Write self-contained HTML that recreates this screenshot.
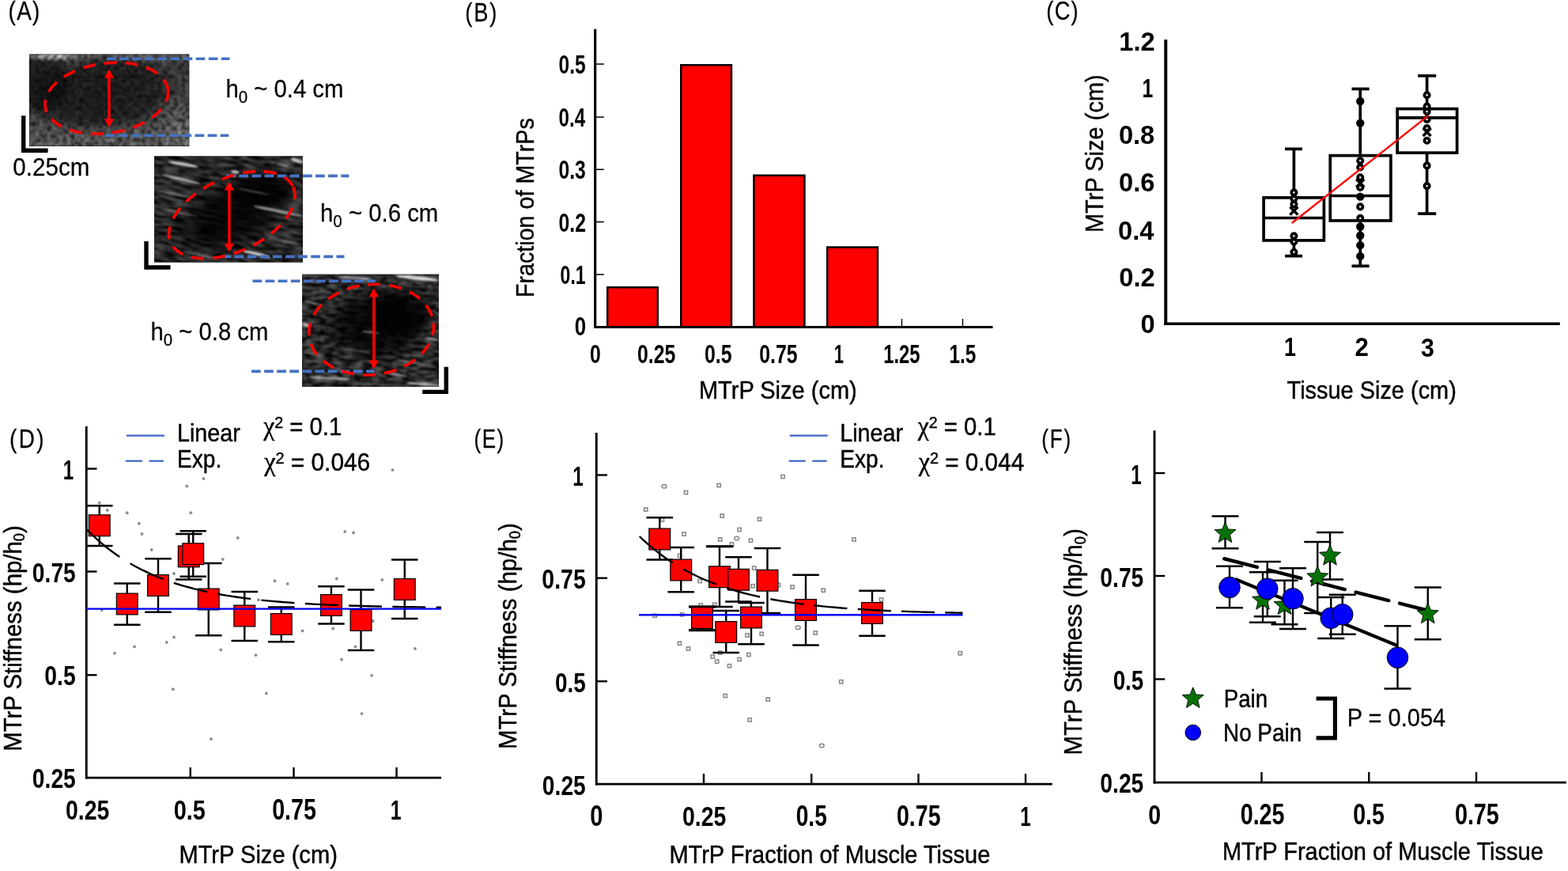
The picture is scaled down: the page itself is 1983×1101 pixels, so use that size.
<!DOCTYPE html>
<html lang="en">
<head>
<meta charset="utf-8">
<title>MTrP size and stiffness figure</title>
<style>
html,body{margin:0;padding:0;background:#fff;}
body{width:1983px;height:1101px;overflow:hidden;}
svg{display:block;font-family:"Liberation Sans",sans-serif;}
text.r{stroke:#000;stroke-width:0.45px;}
text.t{stroke:#000;stroke-width:0.25px;}
</style>
</head>
<body>
<svg width="1983" height="1101" viewBox="0 0 1983 1101">
<defs>
<filter id="spk" x="0" y="0" width="1" height="1" color-interpolation-filters="sRGB">
<feTurbulence type="fractalNoise" baseFrequency="0.2" numOctaves="2" seed="7" result="n"/>
<feColorMatrix in="n" type="matrix" values="1.4 0 0 0 -0.1  1.4 0 0 0 -0.1  1.4 0 0 0 -0.1  0 0 0 0 1" result="g"/>
<feComposite in="SourceGraphic" in2="g" operator="arithmetic" k1="1.67" k2="0" k3="0" k4="0" result="m"/>
<feGaussianBlur in="m" stdDeviation="1.1"/>
</filter>
<filter id="str" x="0" y="0" width="1" height="1" color-interpolation-filters="sRGB">
<feTurbulence type="fractalNoise" baseFrequency="0.05 0.25" numOctaves="3" seed="11" result="n"/>
<feColorMatrix in="n" type="matrix" values="2.2 0 0 0 -0.6  2.2 0 0 0 -0.6  2.2 0 0 0 -0.6  0 0 0 0 1" result="g"/>
<feComposite in="SourceGraphic" in2="g" operator="arithmetic" k1="2" k2="0" k3="0" k4="0" result="m"/>
<feGaussianBlur in="m" stdDeviation="0.8"/>
</filter>
<filter id="str3" x="0" y="0" width="1" height="1" color-interpolation-filters="sRGB">
<feTurbulence type="fractalNoise" baseFrequency="0.08 0.25" numOctaves="3" seed="23" result="n"/>
<feColorMatrix in="n" type="matrix" values="2.2 0 0 0 -0.6  2.2 0 0 0 -0.6  2.2 0 0 0 -0.6  0 0 0 0 1" result="g"/>
<feComposite in="SourceGraphic" in2="g" operator="arithmetic" k1="2" k2="0" k3="0" k4="0" result="m"/>
<feGaussianBlur in="m" stdDeviation="0.8"/>
</filter>
<filter id="bl" x="-0.2" y="-2" width="1.4" height="5"><feGaussianBlur stdDeviation="1.3"/></filter>
<radialGradient id="dk" cx="0.5" cy="0.5" r="0.5"><stop offset="0" stop-color="#000" stop-opacity="0.85"/><stop offset="0.6" stop-color="#000" stop-opacity="0.7"/><stop offset="1" stop-color="#000" stop-opacity="0"/></radialGradient>
<radialGradient id="dk1" cx="0.5" cy="0.5" r="0.5"><stop offset="0" stop-color="#000" stop-opacity="0.55"/><stop offset="0.7" stop-color="#000" stop-opacity="0.45"/><stop offset="1" stop-color="#000" stop-opacity="0"/></radialGradient>
<radialGradient id="lt" cx="0.5" cy="0.5" r="0.5"><stop offset="0" stop-color="#fff" stop-opacity="0.55"/><stop offset="1" stop-color="#fff" stop-opacity="0"/></radialGradient>
<linearGradient id="v1" x1="0" y1="0" x2="0" y2="1"><stop offset="0" stop-color="#5c5c5c"/><stop offset="0.1" stop-color="#383838"/><stop offset="0.7" stop-color="#3a3a3a"/><stop offset="0.85" stop-color="#4c4c4c"/><stop offset="1" stop-color="#505050"/></linearGradient>
<clipPath id="c1"><rect x="37" y="68.5" width="202.3" height="116.5"/></clipPath>
<clipPath id="c2"><rect x="195" y="197.5" width="188" height="134"/></clipPath>
<clipPath id="c3"><rect x="382" y="346.8" width="173" height="142"/></clipPath>
</defs>
<rect width="1983" height="1101" fill="#fff"/>
<g id="panelA">
<rect x="37" y="68.5" width="202.3" height="116.5" fill="#1c1c1c"/>
<g clip-path="url(#c1)"><g filter="url(#spk)"><rect x="37" y="68.5" width="202.3" height="116.5" fill="url(#v1)"/><ellipse cx="130" cy="118" rx="100" ry="50" fill="url(#dk1)" transform="rotate(-6 130 118)"/><ellipse cx="50" cy="105" rx="45" ry="42" fill="url(#dk1)"/><ellipse cx="65" cy="71" rx="35" ry="7" fill="url(#lt)"/><ellipse cx="225" cy="155" rx="35" ry="40" fill="url(#lt)" opacity="0.25"/></g></g>
<rect x="195" y="197.5" width="188" height="134" fill="#0c0c0c"/>
<g clip-path="url(#c2)"><g transform="rotate(11 289 264)"><g filter="url(#str)"><rect x="150" y="150" width="280" height="230" fill="#262626"/></g></g><ellipse cx="293" cy="272" rx="84" ry="44" fill="url(#dk)" transform="rotate(-24 293 272)"/><ellipse cx="330" cy="240" rx="50" ry="26" fill="url(#dk)"/><g filter="url(#bl)" fill="#fff"><ellipse cx="231.4" cy="207.6" rx="19.3" ry="1.8" transform="rotate(10.4 231.4 207.6)" opacity="0.75"/><ellipse cx="229.2" cy="226.6" rx="24.6" ry="1.8" transform="rotate(13.2 229.2 226.6)" opacity="0.6"/><ellipse cx="297.5" cy="217.4" rx="4.9" ry="2" transform="rotate(8.1 297.5 217.4)" opacity="0.7"/><ellipse cx="351.7" cy="266.7" rx="31.6" ry="2" transform="rotate(11.5 351.7 266.7)" opacity="0.55"/><ellipse cx="324.2" cy="320.9" rx="18.0" ry="2.2" transform="rotate(13.5 324.2 320.9)" opacity="0.7"/><ellipse cx="375.5" cy="203.0" rx="7.9" ry="2.5" transform="rotate(18.4 375.5 203.0)" opacity="0.7"/><ellipse cx="358.0" cy="208.5" rx="8.1" ry="1.5" transform="rotate(10.6 358.0 208.5)" opacity="0.4"/><ellipse cx="219.0" cy="245.0" rx="21.6" ry="1.5" transform="rotate(13.4 219.0 245.0)" opacity="0.3"/><ellipse cx="225.0" cy="268.0" rx="25.7" ry="1.5" transform="rotate(13.5 225.0 268.0)" opacity="0.25"/><ellipse cx="320.0" cy="242.0" rx="20.4" ry="1.2" transform="rotate(11.3 320.0 242.0)" opacity="0.25"/><ellipse cx="360.0" cy="304.5" rx="20.5" ry="1.5" transform="rotate(12.7 360.0 304.5)" opacity="0.3"/><ellipse cx="250.0" cy="322.0" rx="20.4" ry="1.5" transform="rotate(11.3 250.0 322.0)" opacity="0.3"/></g></g>
<rect x="382" y="346.8" width="173" height="142" fill="#0c0c0c"/>
<g clip-path="url(#c3)"><g transform="rotate(4 468 418)"><g filter="url(#str3)"><rect x="360" y="320" width="220" height="200" fill="#2a2a2a"/></g></g><ellipse cx="475" cy="412" rx="72" ry="50" fill="url(#dk)"/><ellipse cx="505" cy="395" rx="50" ry="36" fill="url(#dk)"/><g filter="url(#bl)" fill="#fff"><ellipse cx="527.7" cy="351.6" rx="27.1" ry="2.6" transform="rotate(6.2 527.7 351.6)" opacity="0.8"/><ellipse cx="449.9" cy="351.5" rx="21.9" ry="2" transform="rotate(3.9 449.9 351.5)" opacity="0.5"/><ellipse cx="388.0" cy="411.2" rx="5.2" ry="2.5" transform="rotate(16.2 388.0 411.2)" opacity="0.6"/><ellipse cx="468.8" cy="419.9" rx="11.7" ry="1.3" transform="rotate(7.1 468.8 419.9)" opacity="0.4"/><ellipse cx="545.8" cy="428.5" rx="8.9" ry="1.5" transform="rotate(9.7 545.8 428.5)" opacity="0.5"/><ellipse cx="417.2" cy="478.1" rx="25.5" ry="2" transform="rotate(3.3 417.2 478.1)" opacity="0.5"/><ellipse cx="500.5" cy="473.2" rx="14.7" ry="1.5" transform="rotate(8.8 500.5 473.2)" opacity="0.4"/><ellipse cx="534.8" cy="485.5" rx="19.9" ry="2" transform="rotate(4.3 534.8 485.5)" opacity="0.6"/><ellipse cx="392.5" cy="382.0" rx="7.8" ry="1.5" transform="rotate(14.9 392.5 382.0)" opacity="0.35"/><ellipse cx="397.0" cy="447.5" rx="13.2" ry="1.5" transform="rotate(10.9 397.0 447.5)" opacity="0.3"/><ellipse cx="450.0" cy="443.0" rx="20.2" ry="1.2" transform="rotate(8.5 450.0 443.0)" opacity="0.25"/><ellipse cx="520.0" cy="458.0" rx="20.2" ry="1.5" transform="rotate(8.5 520.0 458.0)" opacity="0.3"/></g></g>
<line x1="135" y1="74.3" x2="290.5" y2="74.3" stroke="#4472c4" stroke-width="3.6" stroke-dasharray="11.7 4.4"/>
<line x1="133.8" y1="171.2" x2="289.3" y2="171.2" stroke="#4472c4" stroke-width="3.6" stroke-dasharray="11.7 4.4"/>
<line x1="286.3" y1="222.4" x2="441.3" y2="222.4" stroke="#4472c4" stroke-width="3.6" stroke-dasharray="11.7 4.4"/>
<line x1="280.5" y1="324.4" x2="435.5" y2="324.4" stroke="#4472c4" stroke-width="3.6" stroke-dasharray="11.7 4.4"/>
<line x1="319.5" y1="355.3" x2="474.8" y2="355.3" stroke="#4472c4" stroke-width="3.6" stroke-dasharray="11.7 4.4"/>
<line x1="318" y1="469.4" x2="473.2" y2="469.4" stroke="#4472c4" stroke-width="3.6" stroke-dasharray="11.7 4.4"/>
<ellipse cx="134.8" cy="124.1" rx="78.4" ry="44.2" transform="rotate(-8 134.8 124.1)" fill="none" stroke="#ff0000" stroke-width="3.6" stroke-dasharray="16 11"/>
<ellipse cx="293.3" cy="271.6" rx="85.1" ry="46.5" transform="rotate(-24.6 293.3 271.6)" fill="none" stroke="#ff0000" stroke-width="3.6" stroke-dasharray="16 11"/>
<ellipse cx="469.55" cy="416.65" rx="79.1" ry="57.1" transform="rotate(-6 469.55 416.65)" fill="none" stroke="#ff0000" stroke-width="3.6" stroke-dasharray="16 11"/>
<path d="M138,87.6 l6.2,11 h-4.5 V150.2 h4.5 L138,161.2 l-6.2,-11 h4.5 V98.6 h-4.5 Z" fill="#ff0000"/>
<path d="M289.9,229.6 l6.2,11 h-4.5 V307.8 h4.5 L289.9,318.8 l-6.2,-11 h4.5 V240.6 h-4.5 Z" fill="#ff0000"/>
<path d="M472.8,364.2 l6.2,11 h-4.5 V455.4 h4.5 L472.8,466.4 l-6.2,-11 h4.5 V375.2 h-4.5 Z" fill="#ff0000"/>
<polyline points="29.7,146.2 29.7,190.3 60.6,190.3" fill="none" stroke="#000" stroke-width="5.4"/>
<polyline points="185,305 185,338 215.5,338" fill="none" stroke="#000" stroke-width="5.4"/>
<polyline points="564.3,463.8 564.3,495.4 534.2,495.4" fill="none" stroke="#000" stroke-width="5.4"/>
<text transform="translate(16.32,221.60) scale(0.9424,1)" font-size="31.40" class="t">0.25cm</text>
<text transform="translate(285.45,123.40) scale(0.9448,1)" font-size="31.00" class="t" xml:space="preserve"><tspan>h</tspan><tspan font-size="21.70" dy="6.82">0</tspan><tspan dy="-6.82"> ~ 0.4 cm</tspan></text>
<text transform="translate(404.94,280.40) scale(0.9481,1)" font-size="31.00" class="t" xml:space="preserve"><tspan>h</tspan><tspan font-size="21.70" dy="6.82">0</tspan><tspan dy="-6.82"> ~ 0.6 cm</tspan></text>
<text transform="translate(190.45,430.40) scale(0.9448,1)" font-size="31.00" class="t" xml:space="preserve"><tspan>h</tspan><tspan font-size="21.70" dy="6.82">0</tspan><tspan dy="-6.82"> ~ 0.8 cm</tspan></text>
<text transform="translate(10.62,25.40) scale(0.8600,1)" font-size="32.50" class="t" letter-spacing="1.44">(A)</text>
</g>
<g id="panelB">
<text transform="translate(588.36,26.80) scale(0.8400,1)" font-size="32.50" class="t" letter-spacing="2.12">(B)</text>
<rect x="768.20" y="363.20" width="63.60" height="50.30" fill="#ff0000" stroke="#000" stroke-width="2.4"/>
<rect x="861.20" y="82.20" width="63.85" height="331.30" fill="#ff0000" stroke="#000" stroke-width="2.4"/>
<rect x="953.40" y="221.70" width="64.10" height="191.80" fill="#ff0000" stroke="#000" stroke-width="2.4"/>
<rect x="1046.20" y="312.50" width="63.80" height="101.00" fill="#ff0000" stroke="#000" stroke-width="2.4"/>
<line x1="752.70" y1="36.75" x2="752.70" y2="415.00" stroke="#000" stroke-width="3.2"/>
<line x1="751.70" y1="413.50" x2="1255.50" y2="413.50" stroke="#000" stroke-width="3"/>
<line x1="753.00" y1="81.00" x2="763.80" y2="81.00" stroke="#000" stroke-width="1.5"/>
<line x1="753.00" y1="148.00" x2="763.80" y2="148.00" stroke="#000" stroke-width="1.5"/>
<line x1="753.00" y1="214.25" x2="763.80" y2="214.25" stroke="#000" stroke-width="1.5"/>
<line x1="753.00" y1="280.50" x2="763.80" y2="280.50" stroke="#000" stroke-width="1.5"/>
<line x1="753.00" y1="347.00" x2="763.80" y2="347.00" stroke="#000" stroke-width="1.5"/>
<line x1="1140.50" y1="403.00" x2="1140.50" y2="413.00" stroke="#000" stroke-width="1.4"/>
<line x1="1217.50" y1="403.00" x2="1217.50" y2="413.00" stroke="#000" stroke-width="1.4"/>
<text transform="translate(706.52,93.10) scale(0.7570,1)" font-size="32.40" font-weight="bold">0.5</text>
<text transform="translate(706.53,160.10) scale(0.7458,1)" font-size="32.40" font-weight="bold">0.4</text>
<text transform="translate(706.51,226.40) scale(0.7628,1)" font-size="32.40" font-weight="bold">0.3</text>
<text transform="translate(706.51,292.60) scale(0.7657,1)" font-size="32.40" font-weight="bold">0.2</text>
<text transform="translate(708.58,359.10) scale(0.7105,1)" font-size="32.40" font-weight="bold">0.1</text>
<text transform="translate(726.66,424.40) scale(0.7992,1)" font-size="32.40" font-weight="bold">0</text>
<text transform="translate(746.01,458.60) scale(0.7635,1)" font-size="32.40" font-weight="bold">0</text>
<text transform="translate(806.01,458.60) scale(0.7675,1)" font-size="32.40" font-weight="bold">0.25</text>
<text transform="translate(891.00,458.60) scale(0.7687,1)" font-size="32.40" font-weight="bold">0.5</text>
<text transform="translate(960.26,458.60) scale(0.7675,1)" font-size="32.40" font-weight="bold">0.75</text>
<text transform="translate(1054.82,458.60) scale(0.6803,1)" font-size="32.40" font-weight="bold">1</text>
<text transform="translate(1117.20,458.60) scale(0.7362,1)" font-size="32.40" font-weight="bold">1.25</text>
<text transform="translate(1200.41,458.60) scale(0.7538,1)" font-size="32.40" font-weight="bold">1.5</text>
<text transform="translate(883.93,503.50) scale(0.9069,1)" font-size="32.00" class="r">MTrP Size (cm)</text>
<text transform="translate(674.60,376.05) rotate(-90) scale(0.8970,1)" font-size="32.00" class="r">Fraction of MTrPs</text>
</g>
<g id="panelC">
<text transform="translate(1323.36,25.30) scale(0.8400,1)" font-size="32.50" class="t" letter-spacing="1.47">(C)</text>
<line x1="1474.25" y1="50.00" x2="1474.25" y2="411.00" stroke="#000" stroke-width="4"/>
<line x1="1472.20" y1="409.25" x2="1972.75" y2="409.25" stroke="#000" stroke-width="3.6"/>
<text transform="translate(1415.24,63.75) scale(0.9600,1)" font-size="34.00" font-weight="bold">1.2</text>
<text transform="translate(1444.39,123.00) scale(0.7274,1)" font-size="34.00" font-weight="bold">1</text>
<text transform="translate(1414.91,181.50) scale(0.9600,1)" font-size="34.00" font-weight="bold">0.8</text>
<text transform="translate(1415.07,242.00) scale(0.9600,1)" font-size="34.00" font-weight="bold">0.6</text>
<text transform="translate(1414.09,303.00) scale(0.9600,1)" font-size="34.00" font-weight="bold">0.4</text>
<text transform="translate(1415.24,362.00) scale(0.9600,1)" font-size="34.00" font-weight="bold">0.2</text>
<text transform="translate(1442.49,421.30) scale(0.9600,1)" font-size="34.00" font-weight="bold">0</text>
<text transform="translate(1624.00,449.80) scale(0.7906,1)" font-size="34.00" font-weight="bold">1</text>
<text transform="translate(1713.41,449.80) scale(0.9191,1)" font-size="34.00" font-weight="bold">2</text>
<text transform="translate(1796.99,451.30) scale(0.8913,1)" font-size="34.00" font-weight="bold">3</text>
<text transform="translate(1627.53,503.90) scale(0.9040,1)" font-size="32.00" class="r">Tissue Size (cm)</text>
<text transform="translate(1395.00,294.07) rotate(-90) scale(0.9069,1)" font-size="32.00" class="r">MTrP Size (cm)</text>
<line x1="1636.40" y1="188.30" x2="1636.40" y2="248.00" stroke="#000" stroke-width="3.7"/>
<line x1="1636.40" y1="305.75" x2="1636.40" y2="323.60" stroke="#000" stroke-width="3.7"/>
<line x1="1625.00" y1="188.30" x2="1647.00" y2="188.30" stroke="#000" stroke-width="3.7"/>
<line x1="1625.00" y1="323.60" x2="1647.00" y2="323.60" stroke="#000" stroke-width="3.7"/>
<rect x="1598.10" y="249.85" width="76.30" height="54.05" fill="#fff" stroke="#000" stroke-width="3.7"/>
<line x1="1598.10" y1="275.50" x2="1674.40" y2="275.50" stroke="#000" stroke-width="3.7"/>
<line x1="1720.25" y1="112.40" x2="1720.25" y2="194.80" stroke="#000" stroke-width="3.7"/>
<line x1="1720.25" y1="280.75" x2="1720.25" y2="336.30" stroke="#000" stroke-width="3.7"/>
<line x1="1709.50" y1="112.40" x2="1731.60" y2="112.40" stroke="#000" stroke-width="3.7"/>
<line x1="1709.50" y1="336.30" x2="1731.60" y2="336.30" stroke="#000" stroke-width="3.7"/>
<rect x="1682.25" y="196.65" width="76.65" height="82.25" fill="#fff" stroke="#000" stroke-width="3.7"/>
<line x1="1682.25" y1="247.50" x2="1758.90" y2="247.50" stroke="#000" stroke-width="3.7"/>
<line x1="1804.60" y1="95.80" x2="1804.60" y2="135.70" stroke="#000" stroke-width="3.7"/>
<line x1="1804.60" y1="195.00" x2="1804.60" y2="270.10" stroke="#000" stroke-width="3.7"/>
<line x1="1793.20" y1="95.80" x2="1816.20" y2="95.80" stroke="#000" stroke-width="3.7"/>
<line x1="1793.20" y1="270.10" x2="1816.20" y2="270.10" stroke="#000" stroke-width="3.7"/>
<rect x="1767.15" y="137.55" width="75.50" height="55.60" fill="#fff" stroke="#000" stroke-width="3.7"/>
<line x1="1767.15" y1="148.80" x2="1842.65" y2="148.80" stroke="#000" stroke-width="3.7"/>
<circle cx="1636.4" cy="243.3" r="3.2" fill="#eee" stroke="#000" stroke-width="3.7"/>
<circle cx="1636.4" cy="251.1" r="3.2" fill="#eee" stroke="#000" stroke-width="3.7"/>
<circle cx="1636.4" cy="298.3" r="3.2" fill="#eee" stroke="#000" stroke-width="3.7"/>
<circle cx="1636.4" cy="305.5" r="3.2" fill="#eee" stroke="#000" stroke-width="3.7"/>
<circle cx="1636.4" cy="318.7" r="3.2" fill="#eee" stroke="#000" stroke-width="3.7"/>
<path d="M1631.4,261.5 L1641.4,271.5 M1641.4,261.5 L1631.4,271.5" stroke="#000" stroke-width="3.4" fill="none"/>
<circle cx="1636.4" cy="258.3" r="3.2" fill="#eee" stroke="#000" stroke-width="3.7"/>
<circle cx="1720.25" cy="128" r="5.2" fill="#000"/>
<circle cx="1720.25" cy="155.6" r="5.2" fill="#000"/>
<circle cx="1720.25" cy="286.5" r="5.2" fill="#000"/>
<circle cx="1720.25" cy="297.7" r="5.2" fill="#000"/>
<circle cx="1720.25" cy="310.1" r="5.2" fill="#000"/>
<circle cx="1720.25" cy="323.9" r="5.2" fill="#000"/>
<circle cx="1720.25" cy="203.2" r="3.2" fill="#eee" stroke="#000" stroke-width="3.7"/>
<circle cx="1720.25" cy="211.5" r="3.2" fill="#eee" stroke="#000" stroke-width="3.7"/>
<circle cx="1720.25" cy="261.4" r="3.2" fill="#eee" stroke="#000" stroke-width="3.7"/>
<circle cx="1720.25" cy="275.8" r="3.2" fill="#eee" stroke="#000" stroke-width="3.7"/>
<path d="M1715.25,226.5 L1725.25,236.5 M1725.25,226.5 L1715.25,236.5" stroke="#000" stroke-width="3.4" fill="none"/>
<circle cx="1720.25" cy="224.3" r="3.2" fill="#eee" stroke="#000" stroke-width="3.7"/>
<circle cx="1720.25" cy="237" r="3.2" fill="#eee" stroke="#000" stroke-width="3.7"/>
<circle cx="1720.25" cy="248.6" r="5.2" fill="#000"/>
<circle cx="1804.6" cy="120.2" r="3.2" fill="#eee" stroke="#000" stroke-width="3.7"/>
<circle cx="1804.6" cy="134.6" r="3.2" fill="#eee" stroke="#000" stroke-width="3.7"/>
<circle cx="1804.6" cy="141.1" r="3.2" fill="#eee" stroke="#000" stroke-width="3.7"/>
<circle cx="1804.6" cy="151" r="3.2" fill="#eee" stroke="#000" stroke-width="3.7"/>
<circle cx="1804.6" cy="209.4" r="3.2" fill="#eee" stroke="#000" stroke-width="3.7"/>
<circle cx="1804.6" cy="235.1" r="3.2" fill="#eee" stroke="#000" stroke-width="3.7"/>
<path d="M1799.6,162 L1809.6,172 M1809.6,162 L1799.6,172" stroke="#000" stroke-width="3.4" fill="none"/>
<circle cx="1804.6" cy="162" r="3.2" fill="#eee" stroke="#000" stroke-width="3.7"/>
<circle cx="1804.6" cy="177.8" r="3.2" fill="#eee" stroke="#000" stroke-width="3.7"/>
<line x1="1633.75" y1="282.00" x2="1806.25" y2="146.25" stroke="#ff0000" stroke-width="2.4"/>
</g>
<g id="panelD">
<text transform="translate(12.07,565.80) scale(0.8600,1)" font-size="32.50" class="t" letter-spacing="2.70">(D)</text>
<g fill="#8c8c96"><circle cx="125.75" cy="635.75" r="1.9"/><circle cx="135.75" cy="645" r="1.9"/><circle cx="160.75" cy="648.25" r="1.9"/><circle cx="175.75" cy="661.75" r="1.9"/><circle cx="179.5" cy="675" r="1.9"/><circle cx="191.75" cy="695" r="1.9"/><circle cx="220" cy="725" r="1.9"/><circle cx="236.25" cy="614.5" r="1.9"/><circle cx="257.5" cy="605" r="1.9"/><circle cx="241.25" cy="648.25" r="1.9"/><circle cx="300.75" cy="680" r="1.9"/><circle cx="281.75" cy="707" r="1.9"/><circle cx="436.25" cy="672" r="1.9"/><circle cx="447" cy="673.5" r="1.9"/><circle cx="347.5" cy="734.25" r="1.9"/><circle cx="363.75" cy="738" r="1.9"/><circle cx="425.75" cy="731.5" r="1.9"/><circle cx="483.25" cy="733" r="1.9"/><circle cx="496.5" cy="594.2" r="1.9"/><circle cx="128.75" cy="771" r="1.9"/><circle cx="327" cy="758.25" r="1.9"/><circle cx="260" cy="748" r="1.9"/><circle cx="145" cy="825.75" r="1.9"/><circle cx="170" cy="817.5" r="1.9"/><circle cx="210.75" cy="812" r="1.9"/><circle cx="220" cy="805.5" r="1.9"/><circle cx="218.75" cy="871.25" r="1.9"/><circle cx="279.25" cy="821.5" r="1.9"/><circle cx="323.5" cy="828.2" r="1.9"/><circle cx="336.85" cy="876.5" r="1.9"/><circle cx="267" cy="934.25" r="1.9"/><circle cx="382.5" cy="797.5" r="1.9"/><circle cx="421.25" cy="794.5" r="1.9"/><circle cx="432" cy="833.75" r="1.9"/><circle cx="449.5" cy="817.5" r="1.9"/><circle cx="470" cy="853.85" r="1.9"/><circle cx="457.5" cy="902.1" r="1.9"/><circle cx="471.75" cy="785" r="1.9"/><circle cx="525" cy="820" r="1.9"/></g>
<line x1="109.25" y1="538.75" x2="109.25" y2="984.50" stroke="#000" stroke-width="2.9"/>
<line x1="108.00" y1="983.10" x2="558.00" y2="983.10" stroke="#000" stroke-width="2.9"/>
<line x1="109.25" y1="592.50" x2="122.50" y2="592.50" stroke="#000" stroke-width="2.4"/>
<line x1="109.25" y1="722.50" x2="122.50" y2="722.50" stroke="#000" stroke-width="2.4"/>
<line x1="109.25" y1="853.25" x2="122.50" y2="853.25" stroke="#000" stroke-width="2.4"/>
<line x1="240.75" y1="970.00" x2="240.75" y2="983.00" stroke="#000" stroke-width="2.4"/>
<line x1="371.50" y1="970.00" x2="371.50" y2="983.00" stroke="#000" stroke-width="2.4"/>
<line x1="501.50" y1="970.00" x2="501.50" y2="983.00" stroke="#000" stroke-width="2.4"/>
<line x1="125.75" y1="639.25" x2="125.75" y2="690.00" stroke="#000" stroke-width="2.4"/>
<line x1="109.00" y1="639.25" x2="142.50" y2="639.25" stroke="#000" stroke-width="2.4"/>
<line x1="109.00" y1="690.00" x2="142.50" y2="690.00" stroke="#000" stroke-width="2.4"/>
<line x1="160.75" y1="737.50" x2="160.75" y2="789.75" stroke="#000" stroke-width="2.4"/>
<line x1="144.00" y1="737.50" x2="177.50" y2="737.50" stroke="#000" stroke-width="2.4"/>
<line x1="144.00" y1="789.75" x2="177.50" y2="789.75" stroke="#000" stroke-width="2.4"/>
<line x1="200.00" y1="706.25" x2="200.00" y2="773.75" stroke="#000" stroke-width="2.4"/>
<line x1="183.25" y1="706.25" x2="216.75" y2="706.25" stroke="#000" stroke-width="2.4"/>
<line x1="183.25" y1="773.75" x2="216.75" y2="773.75" stroke="#000" stroke-width="2.4"/>
<line x1="238.75" y1="675.00" x2="238.75" y2="732.50" stroke="#000" stroke-width="2.4"/>
<line x1="222.00" y1="675.00" x2="255.50" y2="675.00" stroke="#000" stroke-width="2.4"/>
<line x1="222.00" y1="732.50" x2="255.50" y2="732.50" stroke="#000" stroke-width="2.4"/>
<line x1="263.75" y1="712.00" x2="263.75" y2="803.25" stroke="#000" stroke-width="2.4"/>
<line x1="247.00" y1="712.00" x2="280.50" y2="712.00" stroke="#000" stroke-width="2.4"/>
<line x1="247.00" y1="803.25" x2="280.50" y2="803.25" stroke="#000" stroke-width="2.4"/>
<line x1="244.25" y1="671.25" x2="244.25" y2="728.75" stroke="#000" stroke-width="2.4"/>
<line x1="227.50" y1="671.25" x2="261.00" y2="671.25" stroke="#000" stroke-width="2.4"/>
<line x1="227.50" y1="728.75" x2="261.00" y2="728.75" stroke="#000" stroke-width="2.4"/>
<line x1="309.25" y1="748.00" x2="309.25" y2="810.00" stroke="#000" stroke-width="2.4"/>
<line x1="292.50" y1="748.00" x2="326.00" y2="748.00" stroke="#000" stroke-width="2.4"/>
<line x1="292.50" y1="810.00" x2="326.00" y2="810.00" stroke="#000" stroke-width="2.4"/>
<line x1="355.75" y1="767.50" x2="355.75" y2="811.25" stroke="#000" stroke-width="2.4"/>
<line x1="339.00" y1="767.50" x2="372.50" y2="767.50" stroke="#000" stroke-width="2.4"/>
<line x1="339.00" y1="811.25" x2="372.50" y2="811.25" stroke="#000" stroke-width="2.4"/>
<line x1="418.90" y1="741.25" x2="418.90" y2="788.50" stroke="#000" stroke-width="2.4"/>
<line x1="402.15" y1="741.25" x2="435.65" y2="741.25" stroke="#000" stroke-width="2.4"/>
<line x1="402.15" y1="788.50" x2="435.65" y2="788.50" stroke="#000" stroke-width="2.4"/>
<line x1="456.50" y1="745.50" x2="456.50" y2="822.00" stroke="#000" stroke-width="2.4"/>
<line x1="439.75" y1="745.50" x2="473.25" y2="745.50" stroke="#000" stroke-width="2.4"/>
<line x1="439.75" y1="822.00" x2="473.25" y2="822.00" stroke="#000" stroke-width="2.4"/>
<line x1="511.75" y1="707.50" x2="511.75" y2="782.00" stroke="#000" stroke-width="2.4"/>
<line x1="495.00" y1="707.50" x2="528.50" y2="707.50" stroke="#000" stroke-width="2.4"/>
<line x1="495.00" y1="782.00" x2="528.50" y2="782.00" stroke="#000" stroke-width="2.4"/>
<rect x="112.35" y="650.85" width="26.80" height="26.80" fill="#ff0000" stroke="#000" stroke-width="1.2"/>
<rect x="147.35" y="750.10" width="26.80" height="26.80" fill="#ff0000" stroke="#000" stroke-width="1.2"/>
<rect x="186.60" y="726.60" width="26.80" height="26.80" fill="#ff0000" stroke="#000" stroke-width="1.2"/>
<rect x="225.35" y="690.00" width="26.80" height="26.80" fill="#ff0000" stroke="#000" stroke-width="1.2"/>
<rect x="250.35" y="744.10" width="26.80" height="26.80" fill="#ff0000" stroke="#000" stroke-width="1.2"/>
<rect x="230.85" y="686.80" width="26.80" height="26.80" fill="#ff0000" stroke="#000" stroke-width="1.2"/>
<rect x="295.85" y="765.10" width="26.80" height="26.80" fill="#ff0000" stroke="#000" stroke-width="1.2"/>
<rect x="342.35" y="775.60" width="26.80" height="26.80" fill="#ff0000" stroke="#000" stroke-width="1.2"/>
<rect x="405.50" y="751.60" width="26.80" height="26.80" fill="#ff0000" stroke="#000" stroke-width="1.2"/>
<rect x="443.10" y="770.60" width="26.80" height="26.80" fill="#ff0000" stroke="#000" stroke-width="1.2"/>
<rect x="498.35" y="731.60" width="26.80" height="26.80" fill="#ff0000" stroke="#000" stroke-width="1.2"/>
<path d="M109.2,668.8 L114.5,674.0 L119.8,679.0 L125.0,683.8 L130.2,688.2 L135.5,692.5 L140.8,696.5 L146.0,700.3 L151.2,703.9 M164.6,712.2 L169.8,715.2 L175.1,718.0 L180.3,720.7 L185.6,723.2 L190.8,725.6 L196.1,727.9 L201.3,730.1 L206.6,732.1 M219.8,736.8 L225.1,738.5 L230.3,740.1 L235.6,741.6 L240.9,743.0 L246.1,744.4 L251.4,745.7 L256.6,746.9 L261.9,748.0 M275.1,750.7 L280.4,751.7 L285.6,752.6 L290.9,753.4 L296.1,754.2 L301.4,755.0 L306.6,755.7 L311.9,756.4 L317.1,757.0 M330.4,758.6 L335.7,759.1 L340.9,759.6 L346.2,760.1 L351.4,760.5 L356.7,761.0 L361.9,761.4 L367.2,761.8 L372.4,762.1 M385.8,763.0 L391.0,763.3 L396.2,763.6 L401.5,763.9 L406.8,764.1 L412.0,764.4 L417.2,764.6 L422.5,764.8 L427.8,765.0 M441.0,765.5 L446.3,765.7 L451.5,765.8 L456.8,766.0 L462.0,766.1 L467.3,766.3 L472.5,766.4 L477.8,766.5 L483.0,766.6 M496.3,766.9 L501.6,767.0 L506.8,767.1 L512.1,767.2 L517.3,767.3 L522.6,767.3 L527.8,767.4 L533.1,767.5 L538.3,767.6 M551.6,767.7 L552.4,767.7 L553.2,767.7 L554.0,767.7 L554.8,767.7 L555.6,767.8 L556.4,767.8 L557.2,767.8 L558.0,767.8" fill="none" stroke="#000" stroke-width="2.4"/>
<line x1="109.25" y1="769.60" x2="558.00" y2="769.60" stroke="#0000f0" stroke-width="2.4"/>
<text transform="translate(79.68,606.20) scale(0.6720,1)" font-size="36.00" font-weight="bold">1</text>
<text transform="translate(40.87,736.20) scale(0.7831,1)" font-size="36.00" font-weight="bold">0.75</text>
<text transform="translate(56.37,865.70) scale(0.7862,1)" font-size="36.00" font-weight="bold">0.5</text>
<text transform="translate(40.87,996.20) scale(0.7831,1)" font-size="36.00" font-weight="bold">0.25</text>
<text transform="translate(82.91,1035.80) scale(0.7912,1)" font-size="36.00" font-weight="bold">0.25</text>
<text transform="translate(219.64,1035.80) scale(0.8029,1)" font-size="36.00" font-weight="bold">0.5</text>
<text transform="translate(344.16,1035.80) scale(0.7949,1)" font-size="36.00" font-weight="bold">0.75</text>
<text transform="translate(493.69,1035.80) scale(0.6900,1)" font-size="36.00" font-weight="bold">1</text>
<text transform="translate(226.42,1091.40) scale(0.9092,1)" font-size="32.00" class="r">MTrP Size (cm)</text>
<text transform="translate(26.70,949.85) rotate(-90) scale(0.9187,1)" font-size="32.00" class="r" xml:space="preserve"><tspan>MTrP Stiffness (hp/h</tspan><tspan font-size="19.84" dy="4.48">0</tspan><tspan dy="-4.48">)</tspan></text>
<line x1="160.00" y1="550.70" x2="208.00" y2="550.70" stroke="#3c64c4" stroke-width="2.2"/>
<line x1="158.90" y1="582.70" x2="180.00" y2="582.70" stroke="#3c64c4" stroke-width="2.2"/>
<line x1="188.50" y1="582.70" x2="206.80" y2="582.70" stroke="#3c64c4" stroke-width="2.2"/>
<text transform="translate(223.95,557.50) scale(0.8979,1)" font-size="32.00" class="r">Linear</text>
<text transform="translate(224.00,591.30) scale(0.8794,1)" font-size="32.00" class="r">Exp.</text>
<text transform="translate(333.15,550.30) scale(0.9449,1)" font-size="31.00" class="r" xml:space="preserve"><tspan font-family="Liberation Serif, serif" font-size="33.48">χ</tspan><tspan font-size="20.77" dy="-8.99">2</tspan><tspan dy="8.99"> = 0.1</tspan></text>
<text transform="translate(334.15,594.50) scale(0.9619,1)" font-size="31.00" class="r" xml:space="preserve"><tspan font-family="Liberation Serif, serif" font-size="33.48">χ</tspan><tspan font-size="20.77" dy="-8.99">2</tspan><tspan dy="8.99"> = 0.046</tspan></text>
</g>
<g id="panelE">
<text transform="translate(599.44,565.80) scale(0.8000,1)" font-size="32.50" class="t" letter-spacing="1.96">(E)</text>
<g fill="none" stroke="#8a8a8a" stroke-width="1.6"><rect x="814.65" y="641.90" width="4.2" height="4.2"/><rect x="865.40" y="620.40" width="4.2" height="4.2"/><rect x="907.15" y="611.40" width="4.2" height="4.2"/><rect x="987.90" y="600.40" width="4.2" height="4.2"/><rect x="911.15" y="649.90" width="4.2" height="4.2"/><rect x="958.40" y="654.15" width="4.2" height="4.2"/><rect x="862.90" y="672.90" width="4.2" height="4.2"/><rect x="932.90" y="667.40" width="4.2" height="4.2"/><rect x="908.65" y="679.90" width="4.2" height="4.2"/><rect x="947.40" y="681.15" width="4.2" height="4.2"/><rect x="923.40" y="685.90" width="4.2" height="4.2"/><rect x="1077.90" y="679.90" width="4.2" height="4.2"/><rect x="951.65" y="715.90" width="4.2" height="4.2"/><rect x="882.90" y="732.40" width="4.2" height="4.2"/><rect x="949.90" y="738.65" width="4.2" height="4.2"/><rect x="982.40" y="737.40" width="4.2" height="4.2"/><rect x="999.90" y="739.90" width="4.2" height="4.2"/><rect x="1039.15" y="744.15" width="4.2" height="4.2"/><rect x="1112.40" y="755.90" width="4.2" height="4.2"/><rect x="884.15" y="762.90" width="4.2" height="4.2"/><rect x="901.65" y="762.15" width="4.2" height="4.2"/><rect x="826.15" y="776.15" width="4.2" height="4.2"/><rect x="860.40" y="774.65" width="4.2" height="4.2"/><rect x="835.40" y="654.90" width="4.2" height="4.2"/><rect x="857.40" y="700.40" width="4.2" height="4.2"/><rect x="857.40" y="811.15" width="4.2" height="4.2"/><rect x="868.40" y="817.90" width="4.2" height="4.2"/><rect x="899.15" y="827.90" width="4.2" height="4.2"/><rect x="908.65" y="822.90" width="4.2" height="4.2"/><rect x="904.65" y="834.15" width="4.2" height="4.2"/><rect x="920.40" y="839.65" width="4.2" height="4.2"/><rect x="932.90" y="831.40" width="4.2" height="4.2"/><rect x="944.90" y="825.40" width="4.2" height="4.2"/><rect x="942.90" y="800.90" width="4.2" height="4.2"/><rect x="961.15" y="799.15" width="4.2" height="4.2"/><rect x="1029.15" y="797.90" width="4.2" height="4.2"/><rect x="1212.15" y="823.65" width="4.2" height="4.2"/><rect x="1061.65" y="859.65" width="4.2" height="4.2"/><rect x="915.15" y="877.40" width="4.2" height="4.2"/><rect x="969.15" y="881.90" width="4.2" height="4.2"/><rect x="946.15" y="907.90" width="4.2" height="4.2"/><ellipse cx="840" cy="614.75" rx="2.9" ry="2.3"/><ellipse cx="931.75" cy="680.5" rx="2.9" ry="2.3"/><ellipse cx="1009.25" cy="793.25" rx="2.9" ry="2.3"/><ellipse cx="1039.25" cy="942.5" rx="2.9" ry="2.3"/></g>
<line x1="754.25" y1="547.00" x2="754.25" y2="992.50" stroke="#000" stroke-width="2.9"/>
<line x1="753.00" y1="991.10" x2="1330.75" y2="991.10" stroke="#000" stroke-width="2.9"/>
<line x1="754.25" y1="600.50" x2="768.00" y2="600.50" stroke="#000" stroke-width="2.4"/>
<line x1="754.25" y1="730.75" x2="768.00" y2="730.75" stroke="#000" stroke-width="2.4"/>
<line x1="754.25" y1="861.25" x2="768.00" y2="861.25" stroke="#000" stroke-width="2.4"/>
<line x1="890.00" y1="978.00" x2="890.00" y2="991.00" stroke="#000" stroke-width="2.4"/>
<line x1="1026.25" y1="978.00" x2="1026.25" y2="991.00" stroke="#000" stroke-width="2.4"/>
<line x1="1161.50" y1="978.00" x2="1161.50" y2="991.00" stroke="#000" stroke-width="2.4"/>
<line x1="1297.00" y1="978.00" x2="1297.00" y2="991.00" stroke="#000" stroke-width="2.4"/>
<line x1="834.25" y1="654.25" x2="834.25" y2="707.50" stroke="#000" stroke-width="2.4"/>
<line x1="817.50" y1="654.25" x2="851.00" y2="654.25" stroke="#000" stroke-width="2.4"/>
<line x1="817.50" y1="707.50" x2="851.00" y2="707.50" stroke="#000" stroke-width="2.4"/>
<line x1="861.25" y1="692.00" x2="861.25" y2="748.25" stroke="#000" stroke-width="2.4"/>
<line x1="844.50" y1="692.00" x2="878.00" y2="692.00" stroke="#000" stroke-width="2.4"/>
<line x1="844.50" y1="748.25" x2="878.00" y2="748.25" stroke="#000" stroke-width="2.4"/>
<line x1="910.00" y1="690.75" x2="910.00" y2="767.00" stroke="#000" stroke-width="2.4"/>
<line x1="893.25" y1="690.75" x2="926.75" y2="690.75" stroke="#000" stroke-width="2.4"/>
<line x1="893.25" y1="767.00" x2="926.75" y2="767.00" stroke="#000" stroke-width="2.4"/>
<line x1="934.00" y1="704.25" x2="934.00" y2="760.50" stroke="#000" stroke-width="2.4"/>
<line x1="917.25" y1="704.25" x2="950.75" y2="704.25" stroke="#000" stroke-width="2.4"/>
<line x1="917.25" y1="760.50" x2="950.75" y2="760.50" stroke="#000" stroke-width="2.4"/>
<line x1="970.50" y1="693.00" x2="970.50" y2="775.00" stroke="#000" stroke-width="2.4"/>
<line x1="953.75" y1="693.00" x2="987.25" y2="693.00" stroke="#000" stroke-width="2.4"/>
<line x1="953.75" y1="775.00" x2="987.25" y2="775.00" stroke="#000" stroke-width="2.4"/>
<line x1="1019.00" y1="726.75" x2="1019.00" y2="815.50" stroke="#000" stroke-width="2.4"/>
<line x1="1002.25" y1="726.75" x2="1035.75" y2="726.75" stroke="#000" stroke-width="2.4"/>
<line x1="1002.25" y1="815.50" x2="1035.75" y2="815.50" stroke="#000" stroke-width="2.4"/>
<line x1="1103.00" y1="746.75" x2="1103.00" y2="803.75" stroke="#000" stroke-width="2.4"/>
<line x1="1086.25" y1="746.75" x2="1119.75" y2="746.75" stroke="#000" stroke-width="2.4"/>
<line x1="1086.25" y1="803.75" x2="1119.75" y2="803.75" stroke="#000" stroke-width="2.4"/>
<line x1="888.00" y1="767.00" x2="888.00" y2="796.75" stroke="#000" stroke-width="2.4"/>
<line x1="871.25" y1="767.00" x2="904.75" y2="767.00" stroke="#000" stroke-width="2.4"/>
<line x1="871.25" y1="796.75" x2="904.75" y2="796.75" stroke="#000" stroke-width="2.4"/>
<line x1="918.25" y1="772.00" x2="918.25" y2="825.00" stroke="#000" stroke-width="2.4"/>
<line x1="901.50" y1="772.00" x2="935.00" y2="772.00" stroke="#000" stroke-width="2.4"/>
<line x1="901.50" y1="825.00" x2="935.00" y2="825.00" stroke="#000" stroke-width="2.4"/>
<line x1="950.00" y1="762.00" x2="950.00" y2="814.25" stroke="#000" stroke-width="2.4"/>
<line x1="933.25" y1="762.00" x2="966.75" y2="762.00" stroke="#000" stroke-width="2.4"/>
<line x1="933.25" y1="814.25" x2="966.75" y2="814.25" stroke="#000" stroke-width="2.4"/>
<line x1="893.00" y1="690.75" x2="927.50" y2="690.75" stroke="#000" stroke-width="3.2"/>
<line x1="871.00" y1="767.00" x2="905.00" y2="767.00" stroke="#000" stroke-width="3.2"/>
<line x1="871.00" y1="796.75" x2="905.00" y2="796.75" stroke="#000" stroke-width="3.2"/>
<rect x="820.85" y="668.10" width="26.80" height="26.80" fill="#ff0000" stroke="#000" stroke-width="1.2"/>
<rect x="847.85" y="707.10" width="26.80" height="26.80" fill="#ff0000" stroke="#000" stroke-width="1.2"/>
<rect x="896.60" y="715.85" width="26.80" height="26.80" fill="#ff0000" stroke="#000" stroke-width="1.2"/>
<rect x="920.60" y="719.35" width="26.80" height="26.80" fill="#ff0000" stroke="#000" stroke-width="1.2"/>
<rect x="957.10" y="720.35" width="26.80" height="26.80" fill="#ff0000" stroke="#000" stroke-width="1.2"/>
<rect x="1005.60" y="757.60" width="26.80" height="26.80" fill="#ff0000" stroke="#000" stroke-width="1.2"/>
<rect x="1089.60" y="761.60" width="26.80" height="26.80" fill="#ff0000" stroke="#000" stroke-width="1.2"/>
<rect x="874.60" y="767.60" width="26.80" height="26.80" fill="#ff0000" stroke="#000" stroke-width="1.2"/>
<rect x="904.85" y="785.60" width="26.80" height="26.80" fill="#ff0000" stroke="#000" stroke-width="1.2"/>
<rect x="936.60" y="767.10" width="26.80" height="26.80" fill="#ff0000" stroke="#000" stroke-width="1.2"/>
<path d="M808.8,678.0 L814.0,683.0 L819.2,687.7 L824.5,692.1 L829.8,696.4 L835.0,700.4 L840.2,704.3 L845.5,707.9 L850.8,711.3 M864.0,719.3 L869.2,722.2 L874.5,724.9 L879.7,727.5 L885.0,730.0 L890.2,732.3 L895.5,734.5 L900.7,736.6 L906.0,738.7 M919.1,743.3 L924.4,744.9 L929.6,746.5 L934.9,748.0 L940.1,749.5 L945.4,750.8 L950.6,752.1 L955.9,753.3 L961.1,754.5 M974.4,757.2 L979.6,758.2 L984.9,759.1 L990.1,760.0 L995.4,760.8 L1000.6,761.6 L1005.9,762.3 L1011.1,763.1 L1016.4,763.7 M1029.5,765.3 L1034.8,765.8 L1040.0,766.4 L1045.3,766.9 L1050.5,767.4 L1055.8,767.8 L1061.0,768.3 L1066.3,768.7 L1071.5,769.1 M1084.8,770.0 L1090.0,770.3 L1095.2,770.6 L1100.5,770.9 L1105.8,771.2 L1111.0,771.5 L1116.2,771.7 L1121.5,772.0 L1126.8,772.2 M1140.0,772.7 L1145.2,772.9 L1150.5,773.1 L1155.7,773.3 L1161.0,773.4 L1166.2,773.6 L1171.5,773.7 L1176.7,773.9 L1182.0,774.0 M1195.2,774.3 L1197.9,774.4 L1200.7,774.4 L1203.5,774.5 L1206.3,774.5 L1209.1,774.6 L1211.9,774.6 L1214.7,774.7 L1217.5,774.7" fill="none" stroke="#000" stroke-width="2.4"/>
<line x1="808.00" y1="777.30" x2="1217.50" y2="777.30" stroke="#0000f0" stroke-width="2.4"/>
<text transform="translate(724.18,614.20) scale(0.6720,1)" font-size="36.00" font-weight="bold">1</text>
<text transform="translate(685.36,744.45) scale(0.7905,1)" font-size="36.00" font-weight="bold">0.75</text>
<text transform="translate(701.88,874.70) scale(0.7757,1)" font-size="36.00" font-weight="bold">0.5</text>
<text transform="translate(685.87,1004.70) scale(0.7831,1)" font-size="36.00" font-weight="bold">0.25</text>
<text transform="translate(746.14,1043.80) scale(0.8070,1)" font-size="36.00" font-weight="bold">0</text>
<text transform="translate(862.91,1043.80) scale(0.7912,1)" font-size="36.00" font-weight="bold">0.25</text>
<text transform="translate(1006.67,1043.80) scale(0.7820,1)" font-size="36.00" font-weight="bold">0.5</text>
<text transform="translate(1133.91,1043.80) scale(0.7949,1)" font-size="36.00" font-weight="bold">0.75</text>
<text transform="translate(1290.22,1043.80) scale(0.6750,1)" font-size="36.00" font-weight="bold">1</text>
<text transform="translate(846.43,1091.40) scale(0.9062,1)" font-size="32.00" class="r">MTrP Fraction of Muscle Tissue</text>
<text transform="translate(653.40,947.10) rotate(-90) scale(0.9195,1)" font-size="32.00" class="r" xml:space="preserve"><tspan>MTrP Stiffness (hp/h</tspan><tspan font-size="19.84" dy="4.48">0</tspan><tspan dy="-4.48">)</tspan></text>
<line x1="998.75" y1="550.70" x2="1046.75" y2="550.70" stroke="#3c64c4" stroke-width="2.2"/>
<line x1="997.65" y1="582.70" x2="1018.75" y2="582.70" stroke="#3c64c4" stroke-width="2.2"/>
<line x1="1027.25" y1="582.70" x2="1045.55" y2="582.70" stroke="#3c64c4" stroke-width="2.2"/>
<text transform="translate(1062.20,557.50) scale(0.8979,1)" font-size="32.00" class="r">Linear</text>
<text transform="translate(1062.25,591.30) scale(0.8794,1)" font-size="32.00" class="r">Exp.</text>
<text transform="translate(1160.65,550.30) scale(0.9449,1)" font-size="31.00" class="r" xml:space="preserve"><tspan font-family="Liberation Serif, serif" font-size="33.48">χ</tspan><tspan font-size="20.77" dy="-8.99">2</tspan><tspan dy="8.99"> = 0.1</tspan></text>
<text transform="translate(1161.65,594.50) scale(0.9586,1)" font-size="31.00" class="r" xml:space="preserve"><tspan font-family="Liberation Serif, serif" font-size="33.48">χ</tspan><tspan font-size="20.77" dy="-8.99">2</tspan><tspan dy="8.99"> = 0.044</tspan></text>
</g>
<g id="panelF">
<text transform="translate(1317.19,565.80) scale(0.8000,1)" font-size="32.50" class="t" letter-spacing="2.32">(F)</text>
<line x1="1460.00" y1="544.25" x2="1460.00" y2="990.50" stroke="#000" stroke-width="2.9"/>
<line x1="1458.75" y1="989.10" x2="1980.75" y2="989.10" stroke="#000" stroke-width="2.9"/>
<line x1="1460.00" y1="598.00" x2="1473.25" y2="598.00" stroke="#000" stroke-width="2.4"/>
<line x1="1460.00" y1="728.00" x2="1473.25" y2="728.00" stroke="#000" stroke-width="2.4"/>
<line x1="1460.00" y1="858.50" x2="1473.25" y2="858.50" stroke="#000" stroke-width="2.4"/>
<line x1="1595.50" y1="976.00" x2="1595.50" y2="989.00" stroke="#000" stroke-width="2.4"/>
<line x1="1731.25" y1="976.00" x2="1731.25" y2="989.00" stroke="#000" stroke-width="2.4"/>
<line x1="1867.00" y1="976.00" x2="1867.00" y2="989.00" stroke="#000" stroke-width="2.4"/>
<line x1="1549.50" y1="652.50" x2="1549.50" y2="693.25" stroke="#000" stroke-width="2.4"/>
<line x1="1532.50" y1="652.50" x2="1566.50" y2="652.50" stroke="#000" stroke-width="2.4"/>
<line x1="1532.50" y1="693.25" x2="1566.50" y2="693.25" stroke="#000" stroke-width="2.4"/>
<line x1="1682.00" y1="673.00" x2="1682.00" y2="732.50" stroke="#000" stroke-width="2.4"/>
<line x1="1665.00" y1="673.00" x2="1699.00" y2="673.00" stroke="#000" stroke-width="2.4"/>
<line x1="1665.00" y1="732.50" x2="1699.00" y2="732.50" stroke="#000" stroke-width="2.4"/>
<line x1="1666.25" y1="685.00" x2="1666.25" y2="775.00" stroke="#000" stroke-width="2.4"/>
<line x1="1649.25" y1="685.00" x2="1683.25" y2="685.00" stroke="#000" stroke-width="2.4"/>
<line x1="1649.25" y1="775.00" x2="1683.25" y2="775.00" stroke="#000" stroke-width="2.4"/>
<line x1="1597.00" y1="723.25" x2="1597.00" y2="786.75" stroke="#000" stroke-width="2.4"/>
<line x1="1580.00" y1="723.25" x2="1614.00" y2="723.25" stroke="#000" stroke-width="2.4"/>
<line x1="1580.00" y1="786.75" x2="1614.00" y2="786.75" stroke="#000" stroke-width="2.4"/>
<line x1="1624.50" y1="733.75" x2="1624.50" y2="789.25" stroke="#000" stroke-width="2.4"/>
<line x1="1607.50" y1="733.75" x2="1641.50" y2="733.75" stroke="#000" stroke-width="2.4"/>
<line x1="1607.50" y1="789.25" x2="1641.50" y2="789.25" stroke="#000" stroke-width="2.4"/>
<line x1="1805.75" y1="742.50" x2="1805.75" y2="808.25" stroke="#000" stroke-width="2.4"/>
<line x1="1788.75" y1="742.50" x2="1822.75" y2="742.50" stroke="#000" stroke-width="2.4"/>
<line x1="1788.75" y1="808.25" x2="1822.75" y2="808.25" stroke="#000" stroke-width="2.4"/>
<line x1="1555.00" y1="715.75" x2="1555.00" y2="768.25" stroke="#000" stroke-width="2.4"/>
<line x1="1538.00" y1="715.75" x2="1572.00" y2="715.75" stroke="#000" stroke-width="2.4"/>
<line x1="1538.00" y1="768.25" x2="1572.00" y2="768.25" stroke="#000" stroke-width="2.4"/>
<line x1="1602.75" y1="710.00" x2="1602.75" y2="779.25" stroke="#000" stroke-width="2.4"/>
<line x1="1585.75" y1="710.00" x2="1619.75" y2="710.00" stroke="#000" stroke-width="2.4"/>
<line x1="1585.75" y1="779.25" x2="1619.75" y2="779.25" stroke="#000" stroke-width="2.4"/>
<line x1="1635.00" y1="718.25" x2="1635.00" y2="795.00" stroke="#000" stroke-width="2.4"/>
<line x1="1618.00" y1="718.25" x2="1652.00" y2="718.25" stroke="#000" stroke-width="2.4"/>
<line x1="1618.00" y1="795.00" x2="1652.00" y2="795.00" stroke="#000" stroke-width="2.4"/>
<line x1="1683.25" y1="755.00" x2="1683.25" y2="807.00" stroke="#000" stroke-width="2.4"/>
<line x1="1666.25" y1="755.00" x2="1700.25" y2="755.00" stroke="#000" stroke-width="2.4"/>
<line x1="1666.25" y1="807.00" x2="1700.25" y2="807.00" stroke="#000" stroke-width="2.4"/>
<line x1="1697.75" y1="751.75" x2="1697.75" y2="801.75" stroke="#000" stroke-width="2.4"/>
<line x1="1680.75" y1="751.75" x2="1714.75" y2="751.75" stroke="#000" stroke-width="2.4"/>
<line x1="1680.75" y1="801.75" x2="1714.75" y2="801.75" stroke="#000" stroke-width="2.4"/>
<line x1="1767.50" y1="791.25" x2="1767.50" y2="870.50" stroke="#000" stroke-width="2.4"/>
<line x1="1750.50" y1="791.25" x2="1784.50" y2="791.25" stroke="#000" stroke-width="2.4"/>
<line x1="1750.50" y1="870.50" x2="1784.50" y2="870.50" stroke="#000" stroke-width="2.4"/>
<line x1="1548.25" y1="706.25" x2="1802" y2="770.75" stroke="#000" stroke-width="4.4" stroke-linecap="round" stroke-dasharray="43 14.2"/>
<line x1="1562.00" y1="732.00" x2="1767.50" y2="816.25" stroke="#000" stroke-width="4.2"/>
<path d="M0.0,-14.2 L3.7,-5.1 L13.5,-4.4 L6.0,1.9 L8.3,11.5 L0.0,6.3 L-8.3,11.5 L-6.0,1.9 L-13.5,-4.4 L-3.7,-5.1 Z" transform="translate(1597,758.75) scale(1)" fill="#067206" stroke="#000" stroke-width="0.9"/>
<path d="M0.0,-14.2 L3.7,-5.1 L13.5,-4.4 L6.0,1.9 L8.3,11.5 L0.0,6.3 L-8.3,11.5 L-6.0,1.9 L-13.5,-4.4 L-3.7,-5.1 Z" transform="translate(1624.5,765) scale(1)" fill="#067206" stroke="#000" stroke-width="0.9"/>
<path d="M0.0,-14.2 L3.7,-5.1 L13.5,-4.4 L6.0,1.9 L8.3,11.5 L0.0,6.3 L-8.3,11.5 L-6.0,1.9 L-13.5,-4.4 L-3.7,-5.1 Z" transform="translate(1549.5,674) scale(1)" fill="#067206" stroke="#000" stroke-width="0.9"/>
<path d="M0.0,-14.2 L3.7,-5.1 L13.5,-4.4 L6.0,1.9 L8.3,11.5 L0.0,6.3 L-8.3,11.5 L-6.0,1.9 L-13.5,-4.4 L-3.7,-5.1 Z" transform="translate(1682,702.7) scale(1)" fill="#067206" stroke="#000" stroke-width="0.9"/>
<path d="M0.0,-14.2 L3.7,-5.1 L13.5,-4.4 L6.0,1.9 L8.3,11.5 L0.0,6.3 L-8.3,11.5 L-6.0,1.9 L-13.5,-4.4 L-3.7,-5.1 Z" transform="translate(1666.25,729.5) scale(1)" fill="#067206" stroke="#000" stroke-width="0.9"/>
<path d="M0.0,-14.2 L3.7,-5.1 L13.5,-4.4 L6.0,1.9 L8.3,11.5 L0.0,6.3 L-8.3,11.5 L-6.0,1.9 L-13.5,-4.4 L-3.7,-5.1 Z" transform="translate(1805.75,776.25) scale(1)" fill="#067206" stroke="#000" stroke-width="0.9"/>
<circle cx="1555" cy="742.5" r="13.3" fill="#0000ff" stroke="#000" stroke-width="1"/>
<circle cx="1602.75" cy="744.25" r="13.3" fill="#0000ff" stroke="#000" stroke-width="1"/>
<circle cx="1635" cy="756.75" r="13.3" fill="#0000ff" stroke="#000" stroke-width="1"/>
<circle cx="1683.25" cy="781.25" r="13.3" fill="#0000ff" stroke="#000" stroke-width="1"/>
<circle cx="1697.75" cy="776.75" r="13.3" fill="#0000ff" stroke="#000" stroke-width="1"/>
<circle cx="1767.5" cy="831.25" r="13.3" fill="#0000ff" stroke="#000" stroke-width="1"/>
<path d="M0.0,-14.2 L3.7,-5.1 L13.5,-4.4 L6.0,1.9 L8.3,11.5 L0.0,6.3 L-8.3,11.5 L-6.0,1.9 L-13.5,-4.4 L-3.7,-5.1 Z" transform="translate(1508.75,883) scale(1)" fill="#067206" stroke="#000" stroke-width="0.9"/>
<circle cx="1508.75" cy="926" r="9.8" fill="#0000ff" stroke="#000" stroke-width="1"/>
<text transform="translate(1547.79,893.50) scale(0.8634,1)" font-size="32.00" class="r">Pain</text>
<text transform="translate(1547.02,936.50) scale(0.8706,1)" font-size="32.00" class="r">No Pain</text>
<polyline points="1664.6,883 1688.4,883 1688.4,932.8 1664.6,932.8" fill="none" stroke="#000" stroke-width="5.2"/>
<text transform="translate(1703.68,917.60) scale(0.9068,1)" font-size="32.00" class="t">P = 0.054</text>
<text transform="translate(1430.18,611.70) scale(0.6720,1)" font-size="36.00" font-weight="bold">1</text>
<text transform="translate(1391.37,741.95) scale(0.7846,1)" font-size="36.00" font-weight="bold">0.75</text>
<text transform="translate(1407.64,872.20) scale(0.7725,1)" font-size="36.00" font-weight="bold">0.5</text>
<text transform="translate(1391.37,1002.20) scale(0.7846,1)" font-size="36.00" font-weight="bold">0.25</text>
<text transform="translate(1452.16,1041.60) scale(0.7924,1)" font-size="36.00" font-weight="bold">0</text>
<text transform="translate(1568.65,1041.60) scale(0.7986,1)" font-size="36.00" font-weight="bold">0.25</text>
<text transform="translate(1711.16,1041.60) scale(0.7925,1)" font-size="36.00" font-weight="bold">0.5</text>
<text transform="translate(1839.90,1041.60) scale(0.7986,1)" font-size="36.00" font-weight="bold">0.75</text>
<text transform="translate(1545.93,1086.90) scale(0.9062,1)" font-size="32.00" class="r">MTrP Fraction of Muscle Tissue</text>
<text transform="translate(1368.40,954.61) rotate(-90) scale(0.9211,1)" font-size="32.00" class="r" xml:space="preserve"><tspan>MTrP Stiffness (hp/h</tspan><tspan font-size="19.84" dy="4.48">0</tspan><tspan dy="-4.48">)</tspan></text>
</g>
</svg>
</body>
</html>
